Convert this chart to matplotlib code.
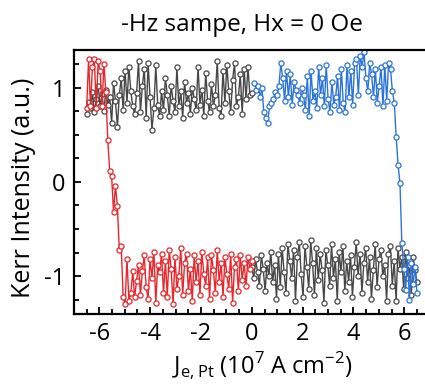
import numpy as np
import matplotlib
matplotlib.use("Agg")
import matplotlib.pyplot as plt
from matplotlib.ticker import MultipleLocator

plt.rcParams['font.family'] = ['Open Sans', 'DejaVu Sans']
plt.rcParams['mathtext.fontset'] = 'custom'
plt.rcParams['mathtext.rm'] = 'Open Sans'
plt.rcParams['axes.unicode_minus'] = False

# current sweep ranges (10^7 A cm^-2)
red_range = (-6.5, 0.0)
gray_top_range = (-6.5, 0.0)
blue_range = (0.1, 6.5)
gray_bot_range = (0.0, 6.5)

# Kerr intensity
red_y = [0.78, 1.30, 0.80, 1.22, 1.30, 0.78, 1.28, 1.18, 0.80, 1.25,
         0.95, 0.44, 0.12, 0.06, -0.32, -0.04, -0.26, -0.72, -0.68, -1.22,
         -1.30, -0.82, -1.26, -1.18, -0.95, -1.22, -1.05, -0.88, -1.20, -0.95,
         -0.78, -1.12, -1.24, -0.82, -1.02, -0.74, -1.28, -0.88, -0.96, -0.76,
         -1.18, -0.84, -1.22, -0.72, -0.92, -1.30, -0.80, -1.14, -1.00, -0.70,
         -1.20, -0.86, -0.76, -1.16, -0.92, -1.26, -0.78, -1.06, -0.84, -1.20,
         -0.74, -0.98, -1.10, -0.80, -1.24, -0.78, -0.94, -1.18, -0.72, -1.06,
         -0.86, -1.22, -0.80, -0.98, -1.14, -0.76, -1.28, -0.90, -0.82, -1.16,
         -0.78, -1.04, -0.86, -1.10, -0.80, -0.92, -0.84]

gray_top_y = [0.72, 0.85, 0.78, 0.95, 0.74, 0.88, 1.02, 0.80, 0.93, 0.75,
              0.98, 0.82, 0.90, 0.62, 1.05, 0.86, 0.58, 0.92, 1.10, 0.76,
              1.18, 0.84, 1.22, 0.96, 0.80, 0.72, 0.94, 1.28, 0.74, 1.02,
              1.20, 0.68, 1.26, 0.90, 0.55, 0.78, 1.24, 0.82, 0.70, 0.96,
              0.76, 1.10, 0.92, 0.70, 1.02, 0.86, 0.74, 1.22, 0.80, 0.96,
              0.68, 1.06, 0.84, 0.94, 0.72, 1.00, 0.88, 0.76, 1.22, 0.82,
              0.98, 0.70, 1.16, 0.86, 0.74, 1.04, 0.80, 0.92, 1.28, 0.78,
              0.70, 1.18, 0.84, 1.24, 0.96, 0.74, 1.08, 1.26, 0.80, 0.90,
              1.14, 0.72, 1.20, 0.88, 1.22, 0.92, 0.94]

blue_y = [1.05, 0.98, 1.02, 0.90, 1.00, 0.74, 0.68, 0.62, 0.80, 0.84,
          0.88, 0.95, 0.92, 1.02, 1.26, 1.10, 0.86, 1.18, 0.90, 1.14,
          0.82, 1.06, 0.98, 0.92, 0.84, 1.00, 0.92, 0.76, 1.12, 0.70,
          1.18, 0.86, 0.96, 0.78, 1.22, 0.92, 1.10, 0.80, 1.24, 0.88,
          0.74, 1.06, 0.82, 0.90, 1.12, 0.76, 1.20, 0.84, 0.74, 1.24,
          0.90, 1.18, 0.82, 1.26, 1.30, 0.92, 1.34, 1.22, 1.38, 1.10,
          0.96, 1.26, 1.14, 0.90, 1.20, 0.84, 1.02, 1.22, 0.80, 1.24,
          0.86, 1.26, 1.20, 0.96,
          0.84, 0.48, 0.18, -0.01, -0.65,
          -0.92, -1.15, -0.80, -1.25, -0.86, -1.08, -0.90, -1.18]

gray_bot_y = [-0.90, -1.02, -0.82, -0.96, -1.10, -0.78, -0.92, -1.16, -0.86, -1.00,
              -0.74, -1.06, -0.88, -1.24, -0.76, -1.12, -0.70, -0.96, -1.18, -0.66,
              -0.84, -1.02, -0.72, -1.26, -0.80, -0.64, -0.98, -1.22, -0.68, -0.90,
              -1.14, -0.62, -0.86, -1.20, -0.70, -1.04, -0.76, -0.94, -1.28, -0.72,
              -0.88, -1.10, -0.66, -1.02, -0.82, -1.26, -0.74, -0.96, -0.68, -1.16,
              -0.84, -1.06, -0.78, -1.22, -0.90, -0.64, -1.00, -0.76, -1.18, -0.86,
              -0.70, -1.06, -0.80, -1.24, -0.94, -0.66, -1.12, -0.82, -0.72, -1.00,
              -0.88, -1.26, -0.76, -0.68, -1.10, -0.84, -1.26, -0.70, -0.92, -0.80,
              -1.14, -0.74, -1.02, -0.88, -1.20, -0.80, -0.94, -1.06]

GRAY = '#474747'
RED = '#e8262b'
BLUE = '#2b74d8'

fig = plt.figure(figsize=(4.25, 3.87), dpi=100)
ax = fig.add_axes([0.174, 0.189, 0.84, 0.682])

style = dict(marker='o', markersize=3.7, markerfacecolor='white',
             markeredgewidth=0.9, linewidth=1.0)

series = [(gray_top_range, gray_top_y, GRAY),
          (gray_bot_range, gray_bot_y, GRAY),
          (red_range, red_y, RED),
          (blue_range, blue_y, BLUE)]
for (x0, x1), y, c in series:
    x = np.linspace(x0, x1, len(y))
    ax.plot(x, y, color=c, markeredgecolor=c, **style)

ax.set_xlim(-7.0, 7.05)
ax.set_ylim(-1.4, 1.4)

ax.xaxis.set_major_locator(MultipleLocator(2))
ax.xaxis.set_minor_locator(MultipleLocator(0.5))
ax.yaxis.set_major_locator(MultipleLocator(1))
ax.yaxis.set_minor_locator(MultipleLocator(0.25))
ax.tick_params(which='both', direction='in', width=1.3, labelsize=17,
               top=False, right=False)
ax.tick_params(which='major', length=5, pad=6)
ax.tick_params(which='minor', length=3.5)
for s in ax.spines.values():
    s.set_linewidth(1.6)
ax.spines['right'].set_visible(False)

fig.text(24 / 425, 1 - 188 / 387, 'Kerr Intensity (a.u.)', rotation=90,
         ha='center', va='center', fontsize=18)
fig.text(262 / 425, 1 - 366 / 387,
         r'J$_{\mathregular{e,Pt}}$ (10$^{\mathregular{7}}$ A cm$^{\mathregular{-2}}$)',
         ha='center', va='center', fontsize=17)
fig.text(242 / 425, 1 - 25 / 387, '-Hz sampe, Hx = 0 Oe', ha='center',
         va='center', fontsize=17.5)

fig.savefig('out.png', dpi=100)
